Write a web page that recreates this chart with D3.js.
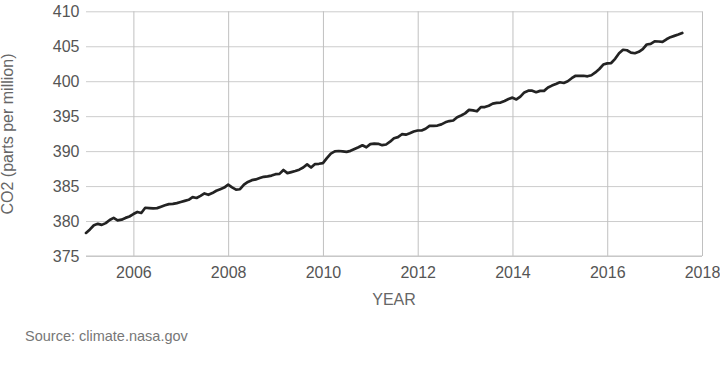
<!DOCTYPE html>
<html>
<head>
<meta charset="utf-8">
<script src="https://cdn.jsdelivr.net/npm/d3@7"></script>
<style>
  html, body { margin: 0; padding: 0; background: #fff; }
  svg { display: block; font-family: "Liberation Sans", Arial, sans-serif; }
</style>
</head>
<body>
<svg id="chart" width="720" height="366"></svg>
<script>
// ---- data ----
const startYear = 2005;           // first month: Jan 2005
const co2 = [
  378.3, 378.8, 379.4, 379.6, 379.45, 379.7, 380.15, 380.45, 380.1, 380.2, 380.45, 380.65,
  381.0, 381.3, 381.15, 381.9, 381.85, 381.8, 381.85, 382.05, 382.25, 382.42, 382.45, 382.57,
  382.72, 382.88, 383.04, 383.42, 383.3, 383.6, 383.95, 383.75, 384.0, 384.33, 384.55, 384.78,
  385.2, 384.82, 384.5, 384.55, 385.2, 385.6, 385.85, 385.95, 386.15, 386.33, 386.38, 386.5,
  386.7, 386.75, 387.3, 386.85, 387.0, 387.15, 387.35, 387.65, 388.1, 387.65, 388.15, 388.19,
  388.28, 389.0, 389.65, 389.97, 390.02, 389.97, 389.9, 390.04, 390.3, 390.56, 390.84, 390.55,
  391.0, 391.08, 391.05, 390.85, 390.95, 391.35, 391.85, 392.0, 392.42, 392.35, 392.55, 392.8,
  392.95, 392.95, 393.2, 393.6, 393.62, 393.66, 393.82, 394.12, 394.3, 394.38, 394.85, 395.1,
  395.4, 395.9, 395.82, 395.7, 396.3, 396.3, 396.5, 396.8, 396.9, 396.94, 397.18, 397.45,
  397.65, 397.4, 397.8, 398.4, 398.64, 398.65, 398.43, 398.62, 398.62, 399.1, 399.37, 399.6,
  399.85, 399.75, 400.0, 400.43, 400.78, 400.75, 400.78, 400.7, 400.85, 401.25, 401.75, 402.38,
  402.55, 402.6, 403.2, 404.0, 404.5, 404.43, 404.1, 404.0, 404.2, 404.6, 405.25, 405.35,
  405.7, 405.68, 405.62, 406.0, 406.3, 406.48, 406.67, 406.9
];
const xTicks = [2006, 2008, 2010, 2012, 2014, 2016, 2018];
const yTicks = [375, 380, 385, 390, 395, 400, 405, 410];
const xDomain = [2005, 2018];
const yDomain = [375, 410];
const xTitle = "YEAR";
const yTitle = "CO2 (parts per million)";
const source = "Source: climate.nasa.gov";

const points = co2.map((v, i) => ({ t: startYear + i / 12, v }));

// ---- layout ----
const svg = d3.select("#chart");
const m = { left: 86, right: 18, top: 11.3, bottom: 110 };
const x = d3.scaleLinear().domain(xDomain).range([m.left, 702]);
const y = d3.scaleLinear().domain(yDomain).range([256, m.top]);

// horizontal grid + y labels
const yAxis = d3.axisLeft(y).tickValues(yTicks).tickSize(-(702 - m.left)).tickPadding(7).tickFormat(d3.format("d"));
const gy = svg.append("g").attr("transform", `translate(${m.left},0)`).call(yAxis);
gy.select(".domain").remove();
gy.selectAll(".tick line").attr("stroke", "#cccccc").attr("stroke-width", 1);
gy.selectAll(".tick text").attr("fill", "#555").attr("font-size", 16).attr("dy", "0.34em").attr("x", -6.5);

// vertical grid + x labels
const xAxis = d3.axisBottom(x).tickValues(xTicks).tickSize(-(256 - m.top)).tickPadding(0).tickFormat(d3.format("d"));
const gx = svg.append("g").attr("transform", `translate(0,256)`).call(xAxis);
gx.select(".domain").remove();
gx.selectAll(".tick line").attr("stroke", "#c0c0c0").attr("stroke-width", 1);
gx.selectAll(".tick text").attr("fill", "#555").attr("font-size", 16).attr("dy", 0).attr("y", 22);

// baseline
svg.append("line").attr("x1", m.left).attr("x2", 702).attr("y1", y(375)).attr("y2", y(375))
  .attr("stroke", "#c4c4c4").attr("stroke-width", 1.2);

// line
const line = d3.line().x(d => x(d.t)).y(d => y(d.v)).curve(d3.curveLinear);
svg.append("path").datum(points).attr("d", line)
  .attr("fill", "none").attr("stroke", "#232323").attr("stroke-width", 2.7)
  .attr("stroke-linejoin", "round").attr("stroke-linecap", "round");

// titles
svg.append("text").attr("x", (m.left + 702) / 2).attr("y", 305).attr("text-anchor", "middle")
  .attr("fill", "#666").attr("font-size", 16).text(xTitle);
svg.append("text").attr("transform", `translate(13.3,134) rotate(-90)`).attr("text-anchor", "middle")
  .attr("fill", "#666").attr("font-size", 16).text(yTitle);
svg.append("text").attr("x", 25).attr("y", 340.5).attr("fill", "#777").attr("font-size", 14.5).text(source);
</script>
</body>
</html>
